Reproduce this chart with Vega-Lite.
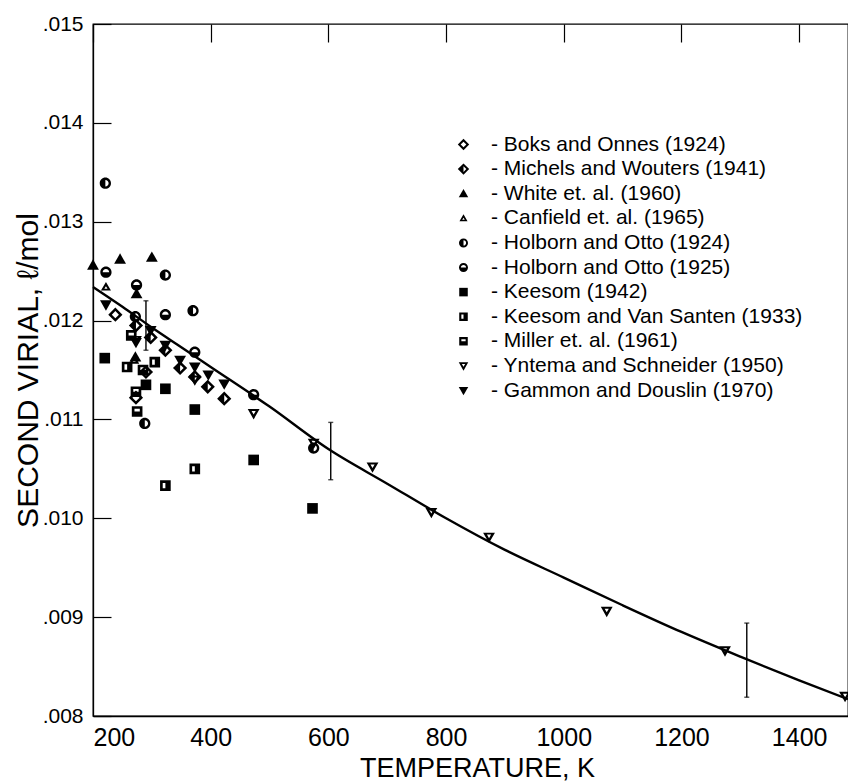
{
  "$schema": "https://vega.github.io/schema/vega-lite/v6.json",
  "width": 755,
  "height": 692,
  "autosize": {"type": "none"},
  "padding": {"left": 93, "top": 24, "right": 0, "bottom": 65},
  "background": "white",
  "config": {
    "font": "Liberation Sans",
    "view": {"stroke": "black", "strokeWidth": 1.3},
    "axis": {
      "ticks": false,
      "grid": true,
      "gridDash": [18, 3000],
      "gridColor": "black",
      "gridOpacity": 1,
      "gridWidth": 1.2,
      "domainColor": "black",
      "domainWidth": 1.3,
      "labelColor": "black",
      "titleColor": "black",
      "labelFont": "Liberation Sans",
      "titleFont": "Liberation Sans",
      "titleFontWeight": "normal"
    },
    "legend": {
      "labelFont": "Liberation Sans",
      "labelFontSize": 21,
      "labelColor": "black",
      "padding": 0,
      "rowPadding": 2.6,
      "labelOffset": 17,
      "symbolSize": 90,
      "symbolStrokeWidth": 0,
      "symbolFillColor": "black"
    }
  },
  "datasets": {
    "curve": [
      {"T": 200, "B": 0.01234},
      {"T": 250, "B": 0.01214},
      {"T": 300, "B": 0.01193},
      {"T": 350, "B": 0.01173},
      {"T": 400, "B": 0.01153},
      {"T": 500, "B": 0.01113},
      {"T": 600, "B": 0.0107},
      {"T": 700, "B": 0.01035},
      {"T": 800, "B": 0.01},
      {"T": 900, "B": 0.00968},
      {"T": 1000, "B": 0.0094},
      {"T": 1100, "B": 0.00912},
      {"T": 1200, "B": 0.00885},
      {"T": 1300, "B": 0.0086},
      {"T": 1400, "B": 0.00836},
      {"T": 1483, "B": 0.00817}
    ],
    "err": [
      {"T": 290, "lo": 0.0117, "hi": 0.0122},
      {"T": 604, "lo": 0.01039, "hi": 0.01097},
      {"T": 1311, "lo": 0.00819, "hi": 0.00894}
    ],
    "pts": [
      {"src": "Boks and Onnes (1924)", "T": 238, "B": 0.01206},
      {"src": "Boks and Onnes (1924)", "T": 273, "B": 0.01122},
      {"src": "Boks and Onnes (1924)", "T": 290, "B": 0.01148},
      {"src": "Michels and Wouters (1941)", "T": 273, "B": 0.01195},
      {"src": "Michels and Wouters (1941)", "T": 298, "B": 0.01183},
      {"src": "Michels and Wouters (1941)", "T": 323, "B": 0.0117},
      {"src": "Michels and Wouters (1941)", "T": 348, "B": 0.01152},
      {"src": "Michels and Wouters (1941)", "T": 373, "B": 0.01143},
      {"src": "Michels and Wouters (1941)", "T": 395, "B": 0.01133},
      {"src": "Michels and Wouters (1941)", "T": 423, "B": 0.01121},
      {"src": "White et. al. (1960)", "T": 200, "B": 0.01256},
      {"src": "White et. al. (1960)", "T": 246, "B": 0.01262},
      {"src": "White et. al. (1960)", "T": 300, "B": 0.01264},
      {"src": "White et. al. (1960)", "T": 274, "B": 0.01227},
      {"src": "White et. al. (1960)", "T": 272, "B": 0.01163},
      {"src": "Canfield et. al. (1965)", "T": 222, "B": 0.01234},
      {"src": "Canfield et. al. (1965)", "T": 270, "B": 0.0116},
      {"src": "Holborn and Otto (1924)", "T": 221, "B": 0.01339},
      {"src": "Holborn and Otto (1924)", "T": 272, "B": 0.01204},
      {"src": "Holborn and Otto (1924)", "T": 288, "B": 0.01096},
      {"src": "Holborn and Otto (1924)", "T": 323, "B": 0.01246},
      {"src": "Holborn and Otto (1924)", "T": 370, "B": 0.0121},
      {"src": "Holborn and Otto (1924)", "T": 575, "B": 0.01071},
      {"src": "Holborn and Otto (1925)", "T": 222, "B": 0.01249},
      {"src": "Holborn and Otto (1925)", "T": 274, "B": 0.01236},
      {"src": "Holborn and Otto (1925)", "T": 323, "B": 0.01206},
      {"src": "Holborn and Otto (1925)", "T": 373, "B": 0.01168},
      {"src": "Holborn and Otto (1925)", "T": 473, "B": 0.01125},
      {"src": "Keesom (1942)", "T": 220, "B": 0.01162},
      {"src": "Keesom (1942)", "T": 290, "B": 0.01135},
      {"src": "Keesom (1942)", "T": 323, "B": 0.01131},
      {"src": "Keesom (1942)", "T": 373, "B": 0.0111},
      {"src": "Keesom (1942)", "T": 473, "B": 0.01059},
      {"src": "Keesom (1942)", "T": 573, "B": 0.0101},
      {"src": "Keesom and Van Santen (1933)", "T": 258, "B": 0.01153},
      {"src": "Keesom and Van Santen (1933)", "T": 305, "B": 0.01158},
      {"src": "Keesom and Van Santen (1933)", "T": 323, "B": 0.01033},
      {"src": "Keesom and Van Santen (1933)", "T": 373, "B": 0.0105},
      {"src": "Miller et. al. (1961)", "T": 265, "B": 0.01185},
      {"src": "Miller et. al. (1961)", "T": 273, "B": 0.01128},
      {"src": "Miller et. al. (1961)", "T": 275, "B": 0.01108},
      {"src": "Miller et. al. (1961)", "T": 285, "B": 0.0115},
      {"src": "Yntema and Schneider (1950)", "T": 273, "B": 0.0118},
      {"src": "Yntema and Schneider (1950)", "T": 373, "B": 0.0114},
      {"src": "Yntema and Schneider (1950)", "T": 473, "B": 0.01106},
      {"src": "Yntema and Schneider (1950)", "T": 575, "B": 0.01076},
      {"src": "Yntema and Schneider (1950)", "T": 675, "B": 0.01052},
      {"src": "Yntema and Schneider (1950)", "T": 775, "B": 0.01006},
      {"src": "Yntema and Schneider (1950)", "T": 873, "B": 0.00981},
      {"src": "Yntema and Schneider (1950)", "T": 1073, "B": 0.00906},
      {"src": "Yntema and Schneider (1950)", "T": 1274, "B": 0.00866},
      {"src": "Yntema and Schneider (1950)", "T": 1478, "B": 0.0082},
      {"src": "Gammon and Douslin (1970)", "T": 222, "B": 0.01216},
      {"src": "Gammon and Douslin (1970)", "T": 273, "B": 0.01178},
      {"src": "Gammon and Douslin (1970)", "T": 298, "B": 0.0119},
      {"src": "Gammon and Douslin (1970)", "T": 323, "B": 0.01175},
      {"src": "Gammon and Douslin (1970)", "T": 348, "B": 0.0116},
      {"src": "Gammon and Douslin (1970)", "T": 373, "B": 0.01153},
      {"src": "Gammon and Douslin (1970)", "T": 396, "B": 0.01145},
      {"src": "Gammon and Douslin (1970)", "T": 423, "B": 0.01136}
    ]
  },
  "layer": [
    {
      "data": {"name": "curve"},
      "mark": {"type": "line", "color": "black", "strokeWidth": 2.4, "interpolate": "monotone"},
      "encoding": {
        "x": {
          "field": "T", "type": "quantitative",
          "scale": {"domain": [200, 1483], "nice": false, "zero": false},
          "axis": {
            "title": "TEMPERATURE, K",
            "values": [200, 400, 600, 800, 1000, 1200, 1400],
            "format": "d",
            "labelFontSize": 25,
            "labelPadding": 9,
            "titleFontSize": 27,
            "titleX": 384,
            "titleY": 60,
            "titleBaseline": "alphabetic",
            "titleAlign": "center"
          }
        },
        "y": {
          "field": "B", "type": "quantitative",
          "scale": {"domain": [0.008, 0.015], "nice": false, "zero": false},
          "axis": {
            "title": "SECOND VIRIAL, ℓ/mol",
            "values": [0.008, 0.009, 0.01, 0.011, 0.012, 0.013, 0.014, 0.015],
            "labelExpr": "substring(format(datum.value, '.3f'), 1)",
            "labelFontSize": 21,
            "labelPadding": 10,
            "titleFontSize": 30,
            "titleX": -56,
            "titleY": 346,
            "titleBaseline": "alphabetic",
            "titleAlign": "center",
            "titleAngle": -90
          }
        }
      }
    },
    {
      "data": {"name": "curve"},
      "mark": {"type": "point", "opacity": 0},
      "encoding": {
        "x": {"field": "T", "type": "quantitative"},
        "y": {
          "field": "B", "type": "quantitative",
          "axis": {
            "orient": "right",
            "title": null,
            "labels": false,
            "domain": false,
            "values": [0.008, 0.009, 0.01, 0.011, 0.012, 0.013, 0.014, 0.015]
          }
        }
      }
    },
    {
      "data": {"name": "err"},
      "mark": {"type": "errorbar", "ticks": true, "color": "black", "thickness": 1.4},
      "encoding": {
        "x": {"field": "T", "type": "quantitative"},
        "y": {"field": "lo", "type": "quantitative", "axis": null},
        "y2": {"field": "hi"}
      }
    },
    {
      "data": {"name": "pts"},
      "mark": {"type": "point", "filled": true, "color": "black", "opacity": 1, "strokeWidth": 0, "size": 140},
      "encoding": {
        "x": {"field": "T", "type": "quantitative"},
        "y": {"field": "B", "type": "quantitative", "axis": null},
        "shape": {
          "field": "src", "type": "nominal",
          "scale": {
            "domain": [
              "Boks and Onnes (1924)",
              "Michels and Wouters (1941)",
              "White et. al. (1960)",
              "Canfield et. al. (1965)",
              "Holborn and Otto (1924)",
              "Holborn and Otto (1925)",
              "Keesom (1942)",
              "Keesom and Van Santen (1933)",
              "Miller et. al. (1961)",
              "Yntema and Schneider (1950)",
              "Gammon and Douslin (1970)"
            ],
            "range": [
              "M0,-1.2L1.2,0L0,1.2L-1.2,0ZM0,-0.6L-0.6,0L0,0.6L0.6,0Z",
              "M0,-1.2L1.2,0L0,1.2L-1.2,0ZM0,-0.6L0,0.6L0.6,0Z",
              "M0,-1L1,0.75L-1,0.75Z",
              "M0,-0.85L0.85,0.6L-0.85,0.6ZM0,-0.1L-0.27,0.32L0.27,0.32Z",
              "M0,-0.95A0.95,0.95,0,1,1,0,0.95A0.95,0.95,0,1,1,0,-0.95ZM0,-0.55L0,0.55A0.55,0.55,0,0,0,0,-0.55Z",
              "M0,-0.95A0.95,0.95,0,1,1,0,0.95A0.95,0.95,0,1,1,0,-0.95ZM-0.55,0L0.55,0A0.55,0.55,0,0,0,-0.55,0Z",
              "M-0.9,-0.9L0.9,-0.9L0.9,0.9L-0.9,0.9Z",
              "M-0.9,-0.9L0.9,-0.9L0.9,0.9L-0.9,0.9ZM-0.45,-0.45L-0.45,0.45L0,0.45L0,-0.45Z",
              "M-0.9,-0.9L0.9,-0.9L0.9,0.9L-0.9,0.9ZM-0.45,-0.45L-0.45,0L0.45,0L0.45,-0.45Z",
              "M-1,-0.75L1,-0.75L0,1ZM-0.35,-0.42L0,0.18L0.35,-0.42Z",
              "M-1,-0.75L1,-0.75L0,1Z"
            ]
          },
          "legend": {
            "title": null,
            "orient": "none",
            "legendX": 360,
            "legendY": 110,
            "labelExpr": "'- ' + datum.label",
            "labelLimit": 400
          }
        }
      }
    }
  ],
  "resolve": {"axis": {"y": "independent"}}
}
